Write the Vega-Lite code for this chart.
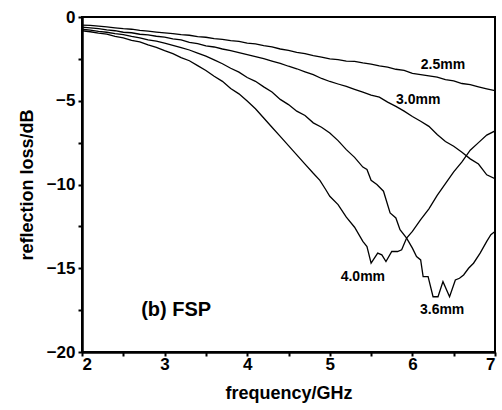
{
  "$schema": "https://vega.github.io/schema/vega-lite/v6.json",
  "width": 413,
  "height": 335,
  "autosize": {"type": "none"},
  "padding": {"left": 82, "top": 17, "right": 7, "bottom": 58},
  "background": "white",
  "config": {
    "font": "Liberation Sans",
    "view": {"stroke": "black", "strokeWidth": 2},
    "axis": {
      "grid": false,
      "domainColor": "black",
      "domainWidth": 2.5,
      "tickColor": "black",
      "tickWidth": 2,
      "tickSize": 4,
      "labelColor": "black",
      "labelFont": "Liberation Sans",
      "labelFontSize": 17,
      "labelFontWeight": "bold",
      "titleColor": "black",
      "titleFont": "Liberation Sans",
      "titleFontSize": 18,
      "titleFontWeight": "bold"
    }
  },
  "datasets": {
    "curves": [
      {"f": 2.0, "rl": -0.48, "s": "2.5mm"}, {"f": 2.1, "rl": -0.5, "s": "2.5mm"}, {"f": 2.2, "rl": -0.55, "s": "2.5mm"}, {"f": 2.3, "rl": -0.59, "s": "2.5mm"}, {"f": 2.4, "rl": -0.65, "s": "2.5mm"}, {"f": 2.5, "rl": -0.7, "s": "2.5mm"}, {"f": 2.6, "rl": -0.73, "s": "2.5mm"}, {"f": 2.7, "rl": -0.8, "s": "2.5mm"}, {"f": 2.8, "rl": -0.84, "s": "2.5mm"}, {"f": 2.9, "rl": -0.9, "s": "2.5mm"}, {"f": 3.0, "rl": -0.95, "s": "2.5mm"}, {"f": 3.1, "rl": -0.99, "s": "2.5mm"}, {"f": 3.2, "rl": -1.05, "s": "2.5mm"}, {"f": 3.3, "rl": -1.09, "s": "2.5mm"}, {"f": 3.4, "rl": -1.17, "s": "2.5mm"}, {"f": 3.5, "rl": -1.21, "s": "2.5mm"}, {"f": 3.6, "rl": -1.29, "s": "2.5mm"}, {"f": 3.7, "rl": -1.33, "s": "2.5mm"}, {"f": 3.8, "rl": -1.41, "s": "2.5mm"}, {"f": 3.9, "rl": -1.46, "s": "2.5mm"}, {"f": 4.0, "rl": -1.56, "s": "2.5mm"}, {"f": 4.1, "rl": -1.61, "s": "2.5mm"}, {"f": 4.2, "rl": -1.71, "s": "2.5mm"}, {"f": 4.3, "rl": -1.79, "s": "2.5mm"}, {"f": 4.4, "rl": -1.91, "s": "2.5mm"}, {"f": 4.5, "rl": -1.99, "s": "2.5mm"}, {"f": 4.6, "rl": -2.11, "s": "2.5mm"}, {"f": 4.7, "rl": -2.19, "s": "2.5mm"}, {"f": 4.8, "rl": -2.31, "s": "2.5mm"}, {"f": 4.9, "rl": -2.39, "s": "2.5mm"}, {"f": 5.0, "rl": -2.5, "s": "2.5mm"}, {"f": 5.1, "rl": -2.54, "s": "2.5mm"}, {"f": 5.2, "rl": -2.63, "s": "2.5mm"}, {"f": 5.3, "rl": -2.65, "s": "2.5mm"}, {"f": 5.4, "rl": -2.74, "s": "2.5mm"}, {"f": 5.5, "rl": -2.81, "s": "2.5mm"}, {"f": 5.6, "rl": -2.92, "s": "2.5mm"}, {"f": 5.7, "rl": -2.99, "s": "2.5mm"}, {"f": 5.8, "rl": -3.12, "s": "2.5mm"}, {"f": 5.9, "rl": -3.19, "s": "2.5mm"}, {"f": 6.0, "rl": -3.37, "s": "2.5mm"}, {"f": 6.1, "rl": -3.44, "s": "2.5mm"}, {"f": 6.2, "rl": -3.52, "s": "2.5mm"}, {"f": 6.3, "rl": -3.59, "s": "2.5mm"}, {"f": 6.4, "rl": -3.74, "s": "2.5mm"}, {"f": 6.5, "rl": -3.81, "s": "2.5mm"}, {"f": 6.6, "rl": -3.97, "s": "2.5mm"}, {"f": 6.7, "rl": -4.04, "s": "2.5mm"}, {"f": 6.8, "rl": -4.17, "s": "2.5mm"}, {"f": 6.9, "rl": -4.29, "s": "2.5mm"}, {"f": 7.0, "rl": -4.4, "s": "2.5mm"},

      {"f": 2.0, "rl": -0.61, "s": "3.0mm"}, {"f": 2.1, "rl": -0.65, "s": "3.0mm"}, {"f": 2.2, "rl": -0.7, "s": "3.0mm"}, {"f": 2.3, "rl": -0.77, "s": "3.0mm"}, {"f": 2.4, "rl": -0.82, "s": "3.0mm"}, {"f": 2.5, "rl": -0.91, "s": "3.0mm"}, {"f": 2.6, "rl": -0.94, "s": "3.0mm"}, {"f": 2.7, "rl": -1.03, "s": "3.0mm"}, {"f": 2.8, "rl": -1.07, "s": "3.0mm"}, {"f": 2.9, "rl": -1.15, "s": "3.0mm"}, {"f": 3.0, "rl": -1.2, "s": "3.0mm"}, {"f": 3.1, "rl": -1.31, "s": "3.0mm"}, {"f": 3.2, "rl": -1.37, "s": "3.0mm"}, {"f": 3.3, "rl": -1.51, "s": "3.0mm"}, {"f": 3.4, "rl": -1.59, "s": "3.0mm"}, {"f": 3.5, "rl": -1.73, "s": "3.0mm"}, {"f": 3.6, "rl": -1.79, "s": "3.0mm"}, {"f": 3.7, "rl": -1.91, "s": "3.0mm"}, {"f": 3.8, "rl": -2.01, "s": "3.0mm"}, {"f": 3.9, "rl": -2.13, "s": "3.0mm"}, {"f": 4.0, "rl": -2.24, "s": "3.0mm"}, {"f": 4.1, "rl": -2.36, "s": "3.0mm"}, {"f": 4.2, "rl": -2.49, "s": "3.0mm"}, {"f": 4.3, "rl": -2.63, "s": "3.0mm"}, {"f": 4.4, "rl": -2.77, "s": "3.0mm"}, {"f": 4.5, "rl": -2.94, "s": "3.0mm"}, {"f": 4.6, "rl": -3.09, "s": "3.0mm"}, {"f": 4.7, "rl": -3.27, "s": "3.0mm"}, {"f": 4.8, "rl": -3.44, "s": "3.0mm"}, {"f": 4.9, "rl": -3.67, "s": "3.0mm"}, {"f": 5.0, "rl": -3.85, "s": "3.0mm"}, {"f": 5.1, "rl": -4.0, "s": "3.0mm"}, {"f": 5.2, "rl": -4.14, "s": "3.0mm"}, {"f": 5.3, "rl": -4.32, "s": "3.0mm"}, {"f": 5.4, "rl": -4.49, "s": "3.0mm"}, {"f": 5.5, "rl": -4.67, "s": "3.0mm"}, {"f": 5.6, "rl": -4.79, "s": "3.0mm"}, {"f": 5.7, "rl": -5.08, "s": "3.0mm"}, {"f": 5.8, "rl": -5.34, "s": "3.0mm"}, {"f": 5.9, "rl": -5.62, "s": "3.0mm"}, {"f": 6.0, "rl": -5.94, "s": "3.0mm"}, {"f": 6.1, "rl": -6.22, "s": "3.0mm"}, {"f": 6.2, "rl": -6.53, "s": "3.0mm"}, {"f": 6.3, "rl": -7.02, "s": "3.0mm"}, {"f": 6.4, "rl": -7.43, "s": "3.0mm"}, {"f": 6.5, "rl": -7.72, "s": "3.0mm"}, {"f": 6.6, "rl": -8.08, "s": "3.0mm"}, {"f": 6.7, "rl": -8.47, "s": "3.0mm"}, {"f": 6.8, "rl": -8.78, "s": "3.0mm"}, {"f": 6.9, "rl": -9.42, "s": "3.0mm"}, {"f": 7.0, "rl": -9.65, "s": "3.0mm"},

      {"f": 2.0, "rl": -0.73, "s": "3.6mm"}, {"f": 2.1, "rl": -0.78, "s": "3.6mm"}, {"f": 2.2, "rl": -0.86, "s": "3.6mm"}, {"f": 2.3, "rl": -0.91, "s": "3.6mm"}, {"f": 2.4, "rl": -0.99, "s": "3.6mm"}, {"f": 2.5, "rl": -1.05, "s": "3.6mm"}, {"f": 2.6, "rl": -1.16, "s": "3.6mm"}, {"f": 2.7, "rl": -1.24, "s": "3.6mm"}, {"f": 2.8, "rl": -1.36, "s": "3.6mm"}, {"f": 2.9, "rl": -1.44, "s": "3.6mm"}, {"f": 3.0, "rl": -1.56, "s": "3.6mm"}, {"f": 3.1, "rl": -1.69, "s": "3.6mm"}, {"f": 3.2, "rl": -1.83, "s": "3.6mm"}, {"f": 3.3, "rl": -1.97, "s": "3.6mm"}, {"f": 3.4, "rl": -2.16, "s": "3.6mm"}, {"f": 3.5, "rl": -2.34, "s": "3.6mm"}, {"f": 3.6, "rl": -2.56, "s": "3.6mm"}, {"f": 3.7, "rl": -2.79, "s": "3.6mm"}, {"f": 3.8, "rl": -3.06, "s": "3.6mm"}, {"f": 3.9, "rl": -3.29, "s": "3.6mm"}, {"f": 4.0, "rl": -3.61, "s": "3.6mm"}, {"f": 4.1, "rl": -3.84, "s": "3.6mm"}, {"f": 4.2, "rl": -4.17, "s": "3.6mm"}, {"f": 4.3, "rl": -4.48, "s": "3.6mm"}, {"f": 4.4, "rl": -4.92, "s": "3.6mm"}, {"f": 4.5, "rl": -5.23, "s": "3.6mm"}, {"f": 4.6, "rl": -5.62, "s": "3.6mm"}, {"f": 4.7, "rl": -5.88, "s": "3.6mm"}, {"f": 4.8, "rl": -6.32, "s": "3.6mm"}, {"f": 4.9, "rl": -6.58, "s": "3.6mm"}, {"f": 5.0, "rl": -6.92, "s": "3.6mm"}, {"f": 5.1, "rl": -7.38, "s": "3.6mm"}, {"f": 5.2, "rl": -7.92, "s": "3.6mm"}, {"f": 5.3, "rl": -8.38, "s": "3.6mm"}, {"f": 5.4, "rl": -8.96, "s": "3.6mm"}, {"f": 5.45, "rl": -9.1, "s": "3.6mm"}, {"f": 5.5, "rl": -9.75, "s": "3.6mm"}, {"f": 5.57, "rl": -10.0, "s": "3.6mm"}, {"f": 5.65, "rl": -10.4, "s": "3.6mm"}, {"f": 5.73, "rl": -11.7, "s": "3.6mm"}, {"f": 5.8, "rl": -12.0, "s": "3.6mm"}, {"f": 5.85, "rl": -12.7, "s": "3.6mm"}, {"f": 5.93, "rl": -13.2, "s": "3.6mm"}, {"f": 6.0, "rl": -13.8, "s": "3.6mm"}, {"f": 6.05, "rl": -14.3, "s": "3.6mm"}, {"f": 6.1, "rl": -14.5, "s": "3.6mm"}, {"f": 6.13, "rl": -15.5, "s": "3.6mm"}, {"f": 6.19, "rl": -15.5, "s": "3.6mm"}, {"f": 6.25, "rl": -16.7, "s": "3.6mm"}, {"f": 6.31, "rl": -16.7, "s": "3.6mm"}, {"f": 6.37, "rl": -15.8, "s": "3.6mm"}, {"f": 6.45, "rl": -16.7, "s": "3.6mm"}, {"f": 6.52, "rl": -15.7, "s": "3.6mm"}, {"f": 6.57, "rl": -15.6, "s": "3.6mm"}, {"f": 6.62, "rl": -15.4, "s": "3.6mm"}, {"f": 6.68, "rl": -15.0, "s": "3.6mm"}, {"f": 6.74, "rl": -14.7, "s": "3.6mm"}, {"f": 6.82, "rl": -14.1, "s": "3.6mm"}, {"f": 6.9, "rl": -13.4, "s": "3.6mm"}, {"f": 6.95, "rl": -13.0, "s": "3.6mm"}, {"f": 7.0, "rl": -12.8, "s": "3.6mm"},

      {"f": 2.0, "rl": -0.82, "s": "4.0mm"}, {"f": 2.1, "rl": -0.88, "s": "4.0mm"}, {"f": 2.2, "rl": -0.96, "s": "4.0mm"}, {"f": 2.3, "rl": -1.02, "s": "4.0mm"}, {"f": 2.4, "rl": -1.16, "s": "4.0mm"}, {"f": 2.5, "rl": -1.24, "s": "4.0mm"}, {"f": 2.6, "rl": -1.39, "s": "4.0mm"}, {"f": 2.7, "rl": -1.49, "s": "4.0mm"}, {"f": 2.8, "rl": -1.66, "s": "4.0mm"}, {"f": 2.9, "rl": -1.81, "s": "4.0mm"}, {"f": 3.0, "rl": -2.01, "s": "4.0mm"}, {"f": 3.1, "rl": -2.19, "s": "4.0mm"}, {"f": 3.2, "rl": -2.42, "s": "4.0mm"}, {"f": 3.3, "rl": -2.61, "s": "4.0mm"}, {"f": 3.4, "rl": -2.9, "s": "4.0mm"}, {"f": 3.5, "rl": -3.19, "s": "4.0mm"}, {"f": 3.6, "rl": -3.54, "s": "4.0mm"}, {"f": 3.7, "rl": -3.84, "s": "4.0mm"}, {"f": 3.8, "rl": -4.27, "s": "4.0mm"}, {"f": 3.9, "rl": -4.59, "s": "4.0mm"}, {"f": 4.0, "rl": -5.02, "s": "4.0mm"}, {"f": 4.1, "rl": -5.48, "s": "4.0mm"}, {"f": 4.2, "rl": -6.03, "s": "4.0mm"}, {"f": 4.3, "rl": -6.58, "s": "4.0mm"}, {"f": 4.4, "rl": -7.13, "s": "4.0mm"}, {"f": 4.5, "rl": -7.68, "s": "4.0mm"}, {"f": 4.6, "rl": -8.23, "s": "4.0mm"}, {"f": 4.7, "rl": -8.78, "s": "4.0mm"}, {"f": 4.8, "rl": -9.33, "s": "4.0mm"}, {"f": 4.88, "rl": -9.75, "s": "4.0mm"}, {"f": 4.95, "rl": -10.3, "s": "4.0mm"}, {"f": 5.0, "rl": -10.7, "s": "4.0mm"}, {"f": 5.1, "rl": -11.2, "s": "4.0mm"}, {"f": 5.2, "rl": -11.95, "s": "4.0mm"}, {"f": 5.3, "rl": -12.55, "s": "4.0mm"}, {"f": 5.4, "rl": -13.4, "s": "4.0mm"}, {"f": 5.45, "rl": -13.7, "s": "4.0mm"}, {"f": 5.5, "rl": -14.7, "s": "4.0mm"}, {"f": 5.58, "rl": -14.1, "s": "4.0mm"}, {"f": 5.63, "rl": -14.2, "s": "4.0mm"}, {"f": 5.68, "rl": -14.6, "s": "4.0mm"}, {"f": 5.75, "rl": -14.0, "s": "4.0mm"}, {"f": 5.82, "rl": -14.0, "s": "4.0mm"}, {"f": 5.87, "rl": -13.9, "s": "4.0mm"}, {"f": 5.93, "rl": -13.2, "s": "4.0mm"}, {"f": 6.0, "rl": -12.8, "s": "4.0mm"}, {"f": 6.1, "rl": -12.1, "s": "4.0mm"}, {"f": 6.2, "rl": -11.45, "s": "4.0mm"}, {"f": 6.3, "rl": -10.65, "s": "4.0mm"}, {"f": 6.4, "rl": -9.95, "s": "4.0mm"}, {"f": 6.5, "rl": -9.25, "s": "4.0mm"}, {"f": 6.6, "rl": -8.65, "s": "4.0mm"}, {"f": 6.7, "rl": -7.95, "s": "4.0mm"}, {"f": 6.8, "rl": -7.5, "s": "4.0mm"}, {"f": 6.9, "rl": -7.05, "s": "4.0mm"}, {"f": 7.0, "rl": -6.8, "s": "4.0mm"}
    ],
    "labels": [
      {"f": 6.37, "rl": -2.87, "t": "2.5mm"},
      {"f": 6.07, "rl": -4.96, "t": "3.0mm"},
      {"f": 5.4, "rl": -15.5, "t": "4.0mm"},
      {"f": 6.36, "rl": -17.5, "t": "3.6mm"}
    ],
    "panel": [
      {"f": 3.14, "rl": -17.5, "t": "(b) FSP"}
    ]
  },
  "layer": [
    {
      "data": {"name": "curves"},
      "mark": {"type": "line", "color": "black", "strokeWidth": 1.3, "clip": true},
      "encoding": {
        "x": {
          "field": "f", "type": "quantitative",
          "scale": {"domain": [2, 7], "nice": false, "zero": false},
          "axis": {
            "title": "frequency/GHz",
            "values": [2, 2.5, 3, 3.5, 4, 4.5, 5, 5.5, 6, 6.5, 7],
            "labelExpr": "datum.value % 1 === 0 ? format(datum.value, 'd') : ''",
            "labelPadding": 0,
            "titlePadding": 12
          }
        },
        "y": {
          "field": "rl", "type": "quantitative",
          "scale": {"domain": [-20, 0], "nice": false, "zero": false},
          "axis": {
            "title": "reflection loss/dB",
            "values": [0, -2.5, -5, -7.5, -10, -12.5, -15, -17.5, -20],
            "labelExpr": "datum.value % 5 === 0 ? format(datum.value, 'd') : ''",
            "labelPadding": 3,
            "titlePadding": 10
          }
        },
        "detail": {"field": "s", "type": "nominal"}
      }
    },
    {
      "data": {"name": "labels"},
      "mark": {"type": "text", "font": "Liberation Sans", "fontSize": 14, "fontWeight": "bold", "color": "black", "align": "center", "baseline": "middle"},
      "encoding": {
        "x": {"field": "f", "type": "quantitative"},
        "y": {"field": "rl", "type": "quantitative"},
        "text": {"field": "t", "type": "nominal"}
      }
    },
    {
      "data": {"name": "panel"},
      "mark": {"type": "text", "font": "Liberation Sans", "fontSize": 20, "fontWeight": "bold", "color": "black", "align": "center", "baseline": "middle"},
      "encoding": {
        "x": {"field": "f", "type": "quantitative"},
        "y": {"field": "rl", "type": "quantitative"},
        "text": {"field": "t", "type": "nominal"}
      }
    }
  ]
}
